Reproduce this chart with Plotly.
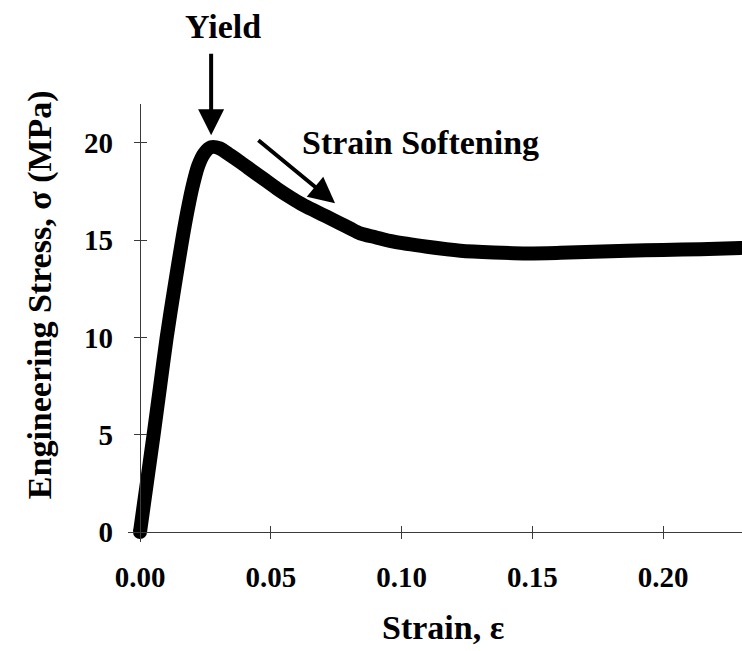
import plotly.graph_objects as go

# Engineering stress-strain curve (strain [-], stress [MPa])
strain = [0.0, 0.0026, 0.0052, 0.0077, 0.0102, 0.0132, 0.0160, 0.0180, 0.0200,
          0.0222, 0.0245, 0.0272, 0.0305, 0.0345, 0.0390, 0.0434, 0.0480, 0.0523,
          0.0575, 0.0625, 0.0670, 0.0715, 0.0760, 0.0804, 0.0842, 0.0900, 0.0970,
          0.1098, 0.1225, 0.1353, 0.1480, 0.1608, 0.1735, 0.1863, 0.2000, 0.2144,
          0.2297]
stress = [0.0, 2.5, 5.0, 7.5, 10.0, 12.6, 14.9, 16.4, 17.7,
          18.8, 19.45, 19.78, 19.72, 19.37, 18.95, 18.52, 18.08, 17.66,
          17.20, 16.80, 16.50, 16.20, 15.90, 15.60, 15.35, 15.15, 14.92,
          14.66, 14.46, 14.37, 14.32, 14.35, 14.40, 14.46, 14.50, 14.54,
          14.60]

x_ticks = [0.00, 0.05, 0.10, 0.15, 0.20]
y_ticks = [0, 5, 10, 15, 20]

x_range = [-0.00459, 0.2302]
y_range = [-0.514, 22.0]

FONT = "Liberation Serif, Times New Roman, serif"
AXIS_COLOR = "#3a3a3a"
LW = 14

# axes cross at the origin
y_pos = (0 - x_range[0]) / (x_range[1] - x_range[0])
x_pos = (0 - y_range[0]) / (y_range[1] - y_range[0])

i_peak = max(range(len(stress)), key=lambda i: stress[i])

fig = go.Figure()
fig.add_trace(go.Scatter(
    x=strain, y=stress, mode="lines",
    line=dict(color="black", width=LW, shape="spline", smoothing=0.8),
    showlegend=False, hoverinfo="skip"))
# rounded ends of the thick curve
fig.add_trace(go.Scatter(
    x=[strain[0], strain[-1]], y=[stress[0], stress[-1]], mode="markers",
    marker=dict(color="black", size=LW, line=dict(width=0)),
    cliponaxis=False, showlegend=False, hoverinfo="skip",
    xaxis="x2", yaxis="y2"))

tick_font = dict(family=FONT, size=29, color="black", weight="bold")
title_font = dict(family=FONT, size=34, color="black", weight="bold")
ann_font = dict(family=FONT, size=34, color="black", weight="bold")

common = dict(showgrid=False, zeroline=False, showline=True,
              linecolor=AXIS_COLOR, linewidth=1.3, tickcolor=AXIS_COLOR,
              tickwidth=1.3, mirror=False)

fig.update_layout(
    width=742, height=651,
    margin=dict(l=128, r=0, t=104, b=109),
    paper_bgcolor="white", plot_bgcolor="white",
    xaxis=dict(range=x_range, tickvals=x_ticks, tickformat=".2f",
               ticks="outside", ticklen=6, tickfont=tick_font,
               ticklabelstandoff=13,
               anchor="free", position=x_pos, **common),
    yaxis=dict(range=y_range, tickvals=y_ticks,
               ticks="outside", ticklen=6, tickfont=tick_font,
               ticklabelstandoff=15,
               anchor="free", position=y_pos, **common),
    # overlay axes supply the inner half of the crossing tick marks
    xaxis2=dict(range=x_range, tickvals=x_ticks, ticks="inside", ticklen=6,
                showticklabels=False, overlaying="x", anchor="free",
                position=x_pos, **common),
    yaxis2=dict(range=y_range, tickvals=y_ticks, ticks="inside", ticklen=6,
                showticklabels=False, overlaying="y", anchor="free",
                position=y_pos, **common),
)

centered = dict(xanchor="center", yanchor="middle", showarrow=False)

# axis titles
fig.add_annotation(x=0.513, y=-0.1963, xref="paper", yref="paper",
                   text="Strain, ε", font=title_font, **centered)
fig.add_annotation(x=-0.143, y=0.564, xref="paper", yref="paper",
                   text="Engineering Stress, σ (MPa)", textangle=-90,
                   font=title_font, **centered)

# Yield marker: arrow pointing down at the peak
fig.add_annotation(x=strain[i_peak], y=stress[i_peak], xref="x", yref="y",
                   text="", showarrow=True, ax=0, ay=-95, standoff=12,
                   arrowhead=2, arrowsize=1.3, arrowwidth=4, arrowcolor="black")
fig.add_annotation(x=0.1547, y=1.176, xref="paper", yref="paper", text="Yield",
                   font=ann_font, **centered)

# Strain softening arrow
fig.add_annotation(x=0.0746, y=16.9, xref="x", yref="y",
                   ax=0.0447, ay=20.2, axref="x", ayref="y",
                   text="", showarrow=True, arrowhead=2, arrowsize=1.3,
                   arrowwidth=4, arrowcolor="black")
fig.add_annotation(x=0.1071, y=20.0, xref="x", yref="y", text="Strain Softening",
                   font=ann_font, **centered)

fig.write_html("out.html")
